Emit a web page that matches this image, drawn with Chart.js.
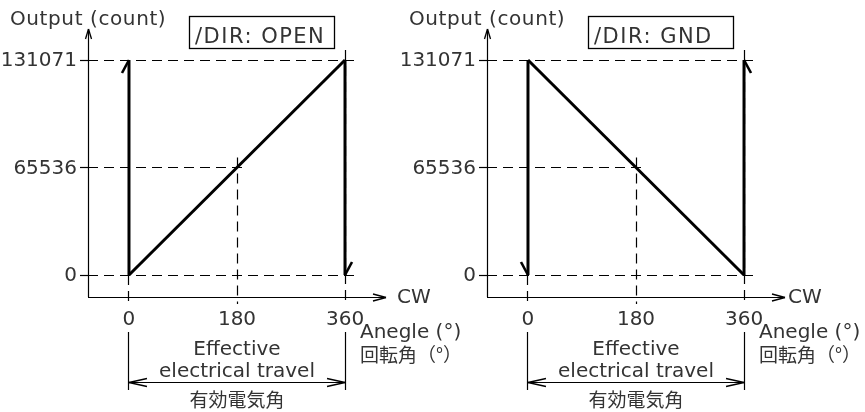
<!DOCTYPE html>
<html lang="en">
<head>
<meta charset="UTF-8">
<title>Output count vs angle</title>
<script src="https://cdn.jsdelivr.net/npm/chart.js"></script>
<style>
    body { margin: 0; background: #fff; }
    #wrap { position: relative; width: 865px; height: 412px; overflow: hidden; }
    canvas { position: absolute; top: 0; }
    #left { left: 0; }
    #right { left: 399px; }
</style>
</head>
<body>
<div id="wrap">
    <canvas id="left" width="480" height="412"></canvas>
    <canvas id="right" width="466" height="412"></canvas>
</div>
<script>
// axis ticks
var angleTicks = [0, 180, 360];
var angleLabels = ['0', '180', '360'];
var countTicks = [0, 65536, 131071];
var countLabels = ['0', '65536', '131071'];
// where each dashed guide stops (angle for horizontals, count for verticals)
var guideEndAngle = [360, 180, 360];
var guideTopCount = [0, 65536, 131071];

// /DIR: OPEN
var openRampAngle = [0, 360];
var openRampCount = [0, 131071];
var openJumpAngle = [0, 0];
var openJumpCount = [0, 131071];
var openDropAngle = [360, 360];
var openDropCount = [131071, 0];

// /DIR: GND
var gndRampAngle = [0, 360];
var gndRampCount = [131071, 0];
var gndDropAngle = [0, 0];
var gndDropCount = [131071, 0];
var gndRiseAngle = [360, 360];
var gndRiseCount = [0, 131071];

var TXT = '#333';
var LAT = '20px "DejaVu Sans", sans-serif';
var CJK = '19px "Noto Sans CJK JP", sans-serif';

function text(ctx, s, x, y, align, base, font, spacing) {
    ctx.save();
    ctx.fillStyle = TXT;
    ctx.font = font || LAT;
    ctx.textAlign = align;
    ctx.textBaseline = base;
    if (spacing) ctx.letterSpacing = spacing;
    ctx.fillText(s, x, y);
    ctx.restore();
}

// thin lines get snapped to the pixel grid so they stay crisp
function snap(v) { return Math.round(v - 0.5) + 0.5; }

function seg(ctx, x1, y1, x2, y2, w, dash) {
    ctx.save();
    ctx.strokeStyle = '#000';
    ctx.lineWidth = w;
    ctx.setLineDash(dash || []);
    ctx.beginPath();
    ctx.moveTo(x1, y1);
    ctx.lineTo(x2, y2);
    ctx.stroke();
    ctx.restore();
}

function hLine(ctx, x1, x2, y, dash) { seg(ctx, x1, snap(y), x2, snap(y), 1.2, dash); }
function vLine(ctx, x, y1, y2, dash) { seg(ctx, snap(x), y1, snap(x), y2, 1.2, dash); }

// open V arrow head; dx,dy = unit direction of the arrow
function vHead(ctx, x, y, dx, dy, len, half) {
    var px = -dy, py = dx;
    seg(ctx, x, y, x - dx * len + px * half, y - dy * len + py * half, 1.3);
    seg(ctx, x, y, x - dx * len - px * half, y - dy * len - py * half, 1.3);
}

var diagram = {
    id: 'diagram',
    beforeDatasetsDraw: function (chart, args, o) {
        var ctx = chart.ctx, a = chart.chartArea;
        var xs = chart.scales.x, ys = chart.scales.y;
        var dash = [10, 6];
        // horizontal guides
        countTicks.forEach(function (c, i) {
            var y = ys.getPixelForValue(c);
            hLine(ctx, a.left - 8, a.left, y);
            hLine(ctx, a.left, xs.getPixelForValue(guideEndAngle[i]) + 10, y, dash);
        });
        // vertical guides
        angleTicks.forEach(function (v, i) {
            var x = xs.getPixelForValue(v);
            var top = ys.getPixelForValue(guideTopCount[i]) - (i === 0 ? 0 : 10);
            vLine(ctx, x, top, a.bottom + 7, dash);
        });
        // axes
        vLine(ctx, a.left, a.bottom, a.top);
        vHead(ctx, snap(a.left), a.top, 0, -1, 10, 3);
        hLine(ctx, a.left, a.right, a.bottom);
        vHead(ctx, a.right, snap(a.bottom), 1, 0, 13, 3.5);
    },
    afterDatasetsDraw: function (chart, args, o) {
        var ctx = chart.ctx, a = chart.chartArea;
        var xs = chart.scales.x, ys = chart.scales.y;

        // half barbs on the jump lines
        o.barbs.forEach(function (b) {
            var pts = chart.getDatasetMeta(b.ds).data;
            var tip = pts[pts.length - 1];
            var up = pts[0].y > tip.y;
            seg(ctx, tip.x, tip.y, tip.x + b.side * 7, tip.y + (up ? 13 : -13), 2.6);
        });

        // titles
        text(ctx, 'Output (count)', 10, 25, 'left', 'alphabetic', LAT, '0.6px');
        ctx.save();
        ctx.strokeStyle = '#000';
        ctx.lineWidth = 1.3;
        ctx.strokeRect(189.5, 16.5, 145, 32);
        ctx.restore();
        text(ctx, o.title, 195, 43, 'left', 'alphabetic', '21px "DejaVu Sans", sans-serif', '1.5px');

        // tick labels
        countTicks.forEach(function (c, i) {
            text(ctx, countLabels[i], a.left - 11, ys.getPixelForValue(c) + 1, 'right', 'middle');
        });
        angleTicks.forEach(function (v, i) {
            text(ctx, angleLabels[i], xs.getPixelForValue(v), 325, 'center', 'alphabetic');
        });
        text(ctx, 'CW', a.right + o.cwGap, a.bottom + 1, 'left', 'middle');

        var x0 = xs.getPixelForValue(angleTicks[0]);
        var x1 = xs.getPixelForValue(angleTicks[2]);
        text(ctx, 'Anegle (°)', x1 + 15, 338, 'left', 'alphabetic');
        text(ctx, '回転角（°）', x1 + 15, 355, 'left', 'middle', CJK);

        // effective electrical travel dimension
        vLine(ctx, x0, 332, 390);
        vLine(ctx, x1, 332, 390);
        hLine(ctx, x0, x1, 382);
        vHead(ctx, x0, snap(382), -1, 0, 18, 4);
        vHead(ctx, x1, snap(382), 1, 0, 18, 4);
        var mid = (x0 + x1) / 2;
        text(ctx, 'Effective', mid, 355, 'center', 'alphabetic');
        text(ctx, 'electrical travel', mid, 377, 'center', 'alphabetic');
        text(ctx, '有効電気角', mid, 400, 'center', 'middle', CJK);
    }
};

function line(angle, count) {
    return {
        data: angle.map(function (v, i) { return { x: v, y: count[i] }; }),
        borderColor: '#000',
        borderWidth: 3,
        pointRadius: 0,
        fill: false,
        tension: 0
    };
}

function panel(id, lines, cfg) {
    return new Chart(document.getElementById(id), {
        type: 'line',
        data: { datasets: lines },
        options: {
            responsive: false,
            animation: false,
            events: [],
            layout: { padding: { left: 88, right: cfg.padRight, top: 29, bottom: 115 } },
            scales: {
                x: { type: 'linear', display: false, min: -68.3, max: 428.3 },
                y: { type: 'linear', display: false, min: -13412, max: 149972 }
            },
            plugins: {
                legend: { display: false },
                tooltip: { enabled: false },
                diagram: cfg
            }
        },
        plugins: [diagram]
    });
}

panel('left', [
    line(openRampAngle, openRampCount),
    line(openJumpAngle, openJumpCount),
    line(openDropAngle, openDropCount)
], { title: '/DIR: OPEN', padRight: 94, cwGap: 11, barbs: [{ ds: 1, side: -1 }, { ds: 2, side: 1 }] });

panel('right', [
    line(gndRampAngle, gndRampCount),
    line(gndDropAngle, gndDropCount),
    line(gndRiseAngle, gndRiseCount)
], { title: '/DIR: GND', padRight: 80, cwGap: 3, barbs: [{ ds: 1, side: -1 }, { ds: 2, side: 1 }] });
</script>
</body>
</html>
